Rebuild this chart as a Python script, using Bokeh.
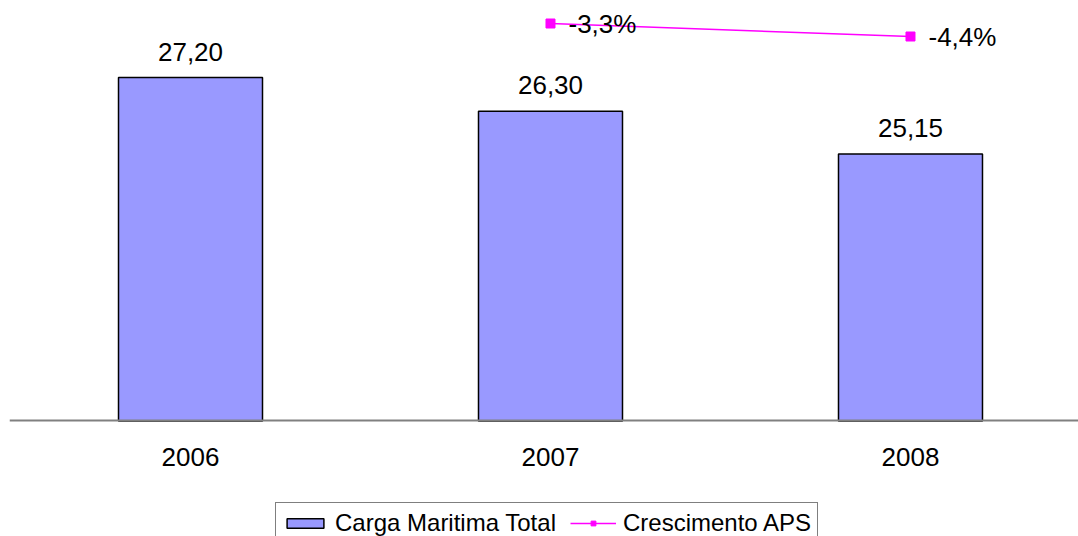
from bokeh.plotting import figure
from bokeh.models import (Range1d, LinearAxis, FixedTicker, ColumnDataSource,
                          Legend, LegendItem)
from bokeh.core.properties import value
from bokeh.embed import file_html
from bokeh.resources import INLINE

# ---- data ----
years = ["2006", "2007", "2008"]
carga = [27.20, 26.30, 25.15]
carga_labels = ["27,20", "26,30", "25,15"]
growth_years = ["2007", "2008"]
growth = [-3.3, -4.4]
growth_labels = ["-3,3%", "-4,4%"]
axis_min = 18

FONT = "Liberation Sans"
xpos = list(range(len(years)))
gx = [years.index(y) for y in growth_years]

p = figure(width=1078, height=536, output_backend="svg", toolbar_location=None,
           x_range=Range1d(-0.5028, 2.4667), y_range=Range1d(14.906, 29.264),
           y_axis_location=None, x_axis_location=None,
           min_border_left=9, min_border_right=0, min_border_top=0,
           min_border_bottom=0)
p.outline_line_color = None
p.background_fill_color = "white"
p.border_fill_color = "white"
p.grid.visible = False
p.extra_y_ranges = {"pct": Range1d(-46.70, -1.354)}

xaxis = LinearAxis(ticker=FixedTicker(ticks=xpos), fixed_location=axis_min,
                   major_label_overrides={i: y for i, y in zip(xpos, years)})
xaxis.axis_line_color = "#808080"
xaxis.axis_line_width = 2
xaxis.major_tick_line_color = None
xaxis.minor_tick_line_color = None
xaxis.major_tick_out = 0
xaxis.major_tick_in = 0
xaxis.major_label_standoff = 27
xaxis.major_label_text_font = FONT
xaxis.major_label_text_font_size = "26px"
xaxis.major_label_text_color = "black"
p.add_layout(xaxis, "below")

src = ColumnDataSource(dict(x=xpos, top=carga, lab=carga_labels))
bars = p.vbar(x="x", top="top", bottom=axis_min, width=0.4, source=src,
              fill_color="#9999FF", line_color="black", line_width=1.5)
p.text(x="x", y="top", text="lab", source=src, text_align="center",
       text_baseline="alphabetic", y_offset=-26, text_font=value(FONT),
       text_font_size="26px", text_color="black")

gsrc = ColumnDataSource(dict(x=gx, y=growth, lab=growth_labels))
ln = p.line(x="x", y="y", source=gsrc, y_range_name="pct",
            line_color="#FF00FF", line_width=1.5)
mk = p.scatter(x="x", y="y", source=gsrc, y_range_name="pct", marker="square",
               size=9, fill_color="#FF00FF", line_color="#FF00FF")
p.text(x="x", y="y", text="lab", source=gsrc, y_range_name="pct",
       text_align="left", text_baseline="middle", x_offset=18, y_offset=0,
       text_font=value(FONT), text_font_size="26px", text_color="black")

legend = Legend(items=[LegendItem(label="Carga Maritima Total", renderers=[bars]),
                       LegendItem(label="Crescimento APS", renderers=[ln, mk])],
                orientation="horizontal", location=(266, -8))
legend.glyph_width = 46
legend.glyph_height = 12
legend.label_standoff = 7
legend.spacing = 14
legend.padding = 6
legend.margin = 0
legend.label_text_font = FONT
legend.label_text_font_size = "24px"
legend.label_text_color = "black"
legend.border_line_color = "black"
legend.border_line_width = 1
legend.background_fill_color = "white"
legend.background_fill_alpha = 1
p.add_layout(legend, "center")

open("out.html", "w").write(file_html(p, INLINE))
